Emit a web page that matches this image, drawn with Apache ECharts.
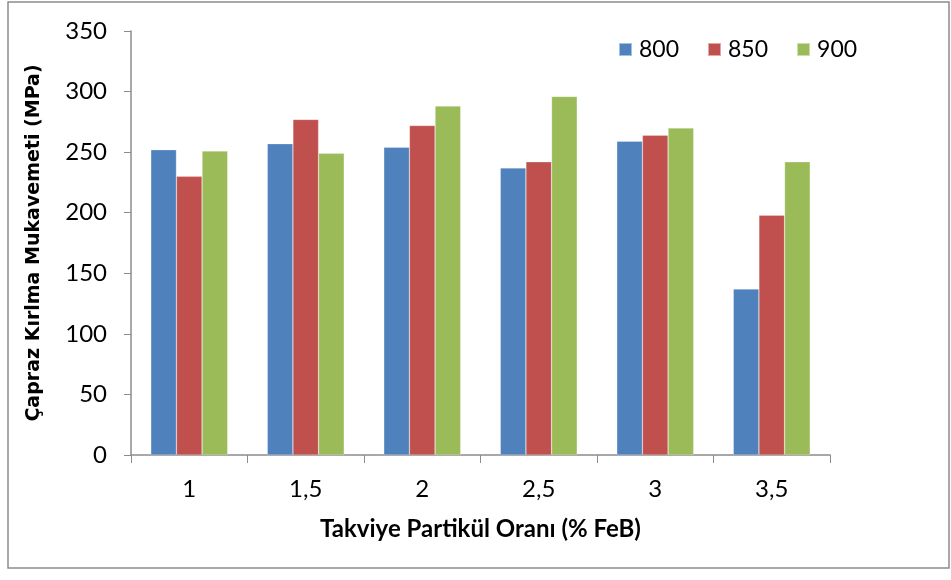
<!DOCTYPE html>
<html>
<head>
<meta charset="utf-8">
<script src="https://cdn.jsdelivr.net/npm/echarts@6/dist/echarts.min.js"></script>
<style>
  html, body { margin: 0; padding: 0; background: #fff; }
  #main { width: 951px; height: 580px; }
</style>
</head>
<body>
<div id="main"></div>
<script>
const categories = ['1', '1,5', '2', '2,5', '3', '3,5'];
const s800 = [252, 257, 254, 237, 259, 137];
const s850 = [230, 277, 272, 242, 264, 198];
const s900 = [251, 249, 288, 296, 270, 242];
const yTicks = { min: 0, max: 350, interval: 50 };

const chart = echarts.init(document.getElementById('main'));
const font = 'Lato, "Open Sans", sans-serif';

const bar = (name, data, color) => ({
    name: name,
    type: 'bar',
    data: data,
    barGap: '0%',
    barCategoryGap: '34%',
    itemStyle: { color: color, borderColor: 'rgba(255,255,255,0.5)', borderWidth: 0.5 }
});

chart.setOption({
    animation: false,
    graphic: [{
        type: 'rect',
        shape: { x: 8, y: 2, width: 941, height: 566 },
        style: { fill: 'none', stroke: '#8c8c8c', lineWidth: 1.5 }
    }],
    legend: {
        top: 33,
        left: 613,
        itemGap: 28,
        itemWidth: 13,
        itemHeight: 13,
        icon: 'rect',
        textStyle: { fontFamily: font, fontSize: 23, color: '#000', padding: [0, 0, 0, 2] },
        data: ['800', '850', '900']
    },
    grid: { left: 131, right: 121, top: 31, bottom: 125 },
    xAxis: {
        type: 'category',
        data: categories,
        name: 'Takviye Partikül Oranı (% FeB)',
        nameLocation: 'middle',
        nameGap: 62,
        nameTextStyle: { fontFamily: font, fontSize: 24, fontWeight: 'bold', color: '#000' },
        axisLine: { lineStyle: { color: '#8c8c8c', width: 1.5 } },
        axisTick: { show: true, length: 8, alignWithLabel: false, lineStyle: { color: '#8c8c8c' } },
        axisLabel: { fontFamily: font, fontSize: 24, color: '#000', margin: 22 }
    },
    yAxis: {
        type: 'value',
        min: yTicks.min,
        max: yTicks.max,
        interval: yTicks.interval,
        name: 'Çapraz Kırlma Mukavemeti (MPa)',
        nameLocation: 'middle',
        nameGap: 87,
        nameTextStyle: { fontFamily: '"DejaVu Sans", sans-serif', fontSize: 19, fontWeight: 'bold', color: '#000' },
        splitLine: { show: false },
        axisLine: { show: true, lineStyle: { color: '#8c8c8c', width: 1.5 } },
        axisTick: { show: true, length: 7, lineStyle: { color: '#8c8c8c' } },
        axisLabel: { fontFamily: font, fontSize: 24, color: '#000', margin: 24 }
    },
    series: [
        bar('800', s800, '#4F81BD'),
        bar('850', s850, '#C0504D'),
        bar('900', s900, '#9BBB59')
    ]
});
</script>
</body>
</html>
